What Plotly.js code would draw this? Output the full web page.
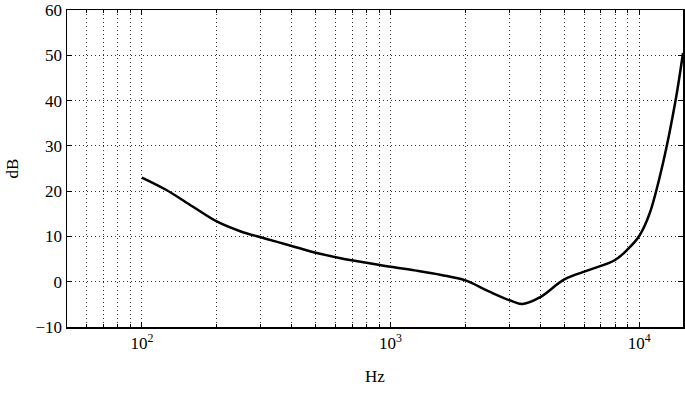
<!DOCTYPE html>
<html>
<head>
<meta charset="utf-8">
<script src="https://cdn.plot.ly/plotly-2.35.2.min.js"></script>
<style>
  html, body { margin: 0; padding: 0; background: #fff; }
  #chart { width: 685px; height: 396px; }
  #chart svg text { font-family: "Liberation Serif", "Times New Roman", serif !important; font-size: 17px !important; fill: #000 !important; }
</style>
</head>
<body>
<div id="chart"></div>
<script>
// threshold curve
var freqHz = [100, 125, 160, 200, 250, 315, 400, 500, 630, 800, 1000, 1250, 1600, 2000, 2500, 3150, 3400, 4000, 5000, 6300, 8000, 9000, 10000, 11000, 12500, 14000, 15000];
var levelDb = [23, 20.3, 16.6, 13.3, 11.1, 9.5, 7.9, 6.4, 5.2, 4.2, 3.3, 2.5, 1.5, 0.3, -2.2, -4.5, -4.9, -3.4, 0.5, 2.6, 4.8, 7.2, 10.1, 15, 26.5, 40, 50.5];

var majorFreqs = [100, 1000, 10000];
var majorLabels = ["10<sup>2</sup>", "10<sup>3</sup>", "10<sup>4</sup>"];
var minorFreqs = [60, 70, 80, 90, 200, 300, 400, 500, 600, 700, 800, 900,
                  2000, 3000, 4000, 5000, 6000, 7000, 8000, 9000];

function serif(size) {
  return {family: "Liberation Serif", size: size, color: "#000"};
}

var curve = {
  x: freqHz,
  y: levelDb,
  type: "scatter",
  mode: "lines",
  line: {color: "#000", width: 2.5, shape: "spline", smoothing: 1},
  hoverinfo: "skip"
};

var dots = "1px,3px";

var layout = {
  width: 685,
  height: 396,
  margin: {l: 67, r: 2, t: 10, b: 69},
  paper_bgcolor: "#fff",
  plot_bgcolor: "#fff",
  showlegend: false,
  font: serif(17),
  xaxis: {
    type: "log",
    range: [Math.log10(50), Math.log10(15000)],
    tickmode: "array",
    tickvals: majorFreqs,
    ticktext: majorLabels,
    ticks: "inside",
    ticklen: 5,
    tickcolor: "#000",
    minor: {
      tickmode: "array",
      tickvals: minorFreqs,
      ticks: "inside",
      ticklen: 3,
      tickcolor: "#000",
      showgrid: true,
      gridcolor: "#333",
      griddash: dots,
      gridwidth: 1
    },
    showline: true,
    linecolor: "#000",
    linewidth: 1.5,
    mirror: "ticks",
    showgrid: true,
    gridcolor: "#333",
    griddash: dots,
    gridwidth: 1,
    zeroline: false,
    tickfont: serif(17),
    title: {text: "Hz", font: serif(17), standoff: 18}
  },
  yaxis: {
    range: [-10, 60],
    tickmode: "linear",
    tick0: -10,
    dtick: 10,
    ticks: "inside",
    ticklen: 5,
    tickcolor: "#000",
    showline: true,
    linecolor: "#000",
    linewidth: 1.5,
    mirror: "ticks",
    showgrid: true,
    gridcolor: "#333",
    griddash: dots,
    gridwidth: 1,
    zeroline: false,
    tickfont: serif(17),
    title: {text: "dB", font: serif(17), standoff: 12}
  }
};

Plotly.newPlot("chart", [curve], layout, {displayModeBar: false, staticPlot: true});
</script>
</body>
</html>
